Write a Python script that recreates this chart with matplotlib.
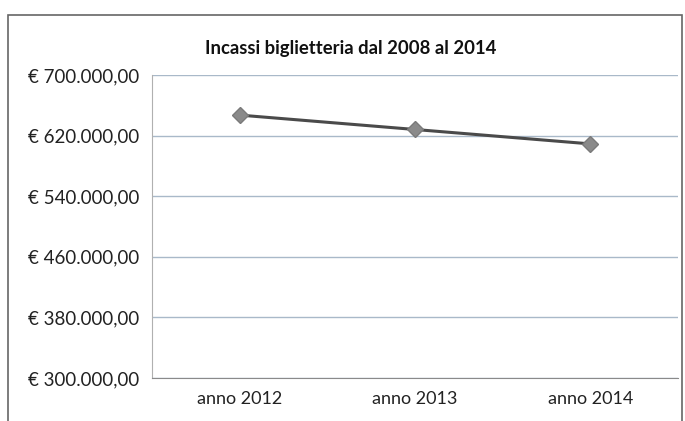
import matplotlib.pyplot as plt
import matplotlib.patches as patches
from matplotlib.ticker import FuncFormatter

# Dati
anni = ["anno 2012", "anno 2013", "anno 2014"]
incassi = [647000, 628000, 609000]
y_ticks = [300000, 380000, 460000, 540000, 620000, 700000]

plt.rcParams['font.family'] = ['Lato', 'DejaVu Sans']


def euro(v, pos=None):
    s = f"{v:,.2f}"
    s = s.replace(",", "X").replace(".", ",").replace("X", ".")
    return "\u20ac " + s


fig = plt.figure(figsize=(6.85, 4.21), dpi=100)
ax = fig.add_axes([0.222, 0.102, 0.768, 0.72])

x = range(len(anni))
ax.plot(x, incassi, color='#4a4a4a', linewidth=2.2, marker='D', markersize=8,
        markerfacecolor='#8a8a8a', markeredgecolor='#7a7a7a', zorder=3)

ax.set_xlim(-0.5, len(anni) - 0.5)
ax.set_ylim(300000, 700000)
ax.set_yticks(y_ticks)
ax.yaxis.set_major_formatter(FuncFormatter(euro))
ax.set_xticks(list(x))
ax.set_xticklabels(anni)

ax.grid(axis='y', color='#a9b9c9', linewidth=1)
ax.set_axisbelow(True)
for side in ['top', 'right']:
    ax.spines[side].set_visible(False)
ax.spines['left'].set_color('#b0b0b0')
ax.spines['bottom'].set_color('#8a8a8a')
ax.tick_params(axis='both', length=0, labelsize=13, colors='#222222')
ax.tick_params(axis='y', pad=9, labelsize=13.5)
ax.tick_params(axis='x', pad=9)

fig.text(0.512, 0.885, "Incassi biglietteria dal 2008 al 2014", ha='center',
         va='center', fontsize=13.3, fontweight='bold', color='#111111')

# cornice esterna del grafico
bordo = patches.Rectangle((0.012, -0.05), 0.983, 0.015 + 0.95 + 0.05,
                          transform=fig.transFigure, fill=False,
                          edgecolor='#666666', linewidth=1.2)
fig.patches.append(bordo)

fig.savefig("out.png", dpi=100)
